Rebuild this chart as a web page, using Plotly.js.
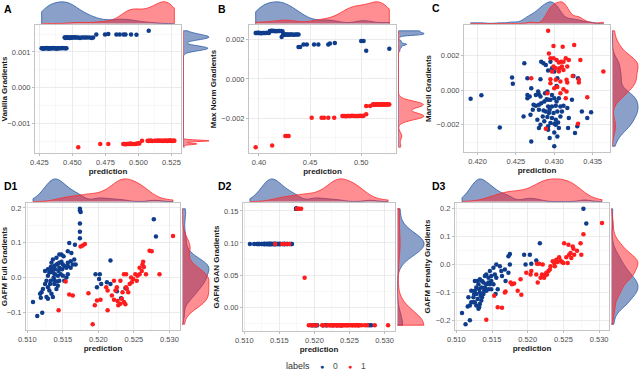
<!DOCTYPE html>
<html>
<head>
<meta charset="utf-8">
<script src="https://cdn.plot.ly/plotly-3.0.1.min.js"></script>
<style>
  html, body { margin: 0; padding: 0; background: #fff; }
  #chart { width: 640px; height: 389px; }
</style>
</head>
<body>
<div id="chart"></div>
<script>
// ---- Panel A: Vanilla Gradients vs prediction ----
const aBlueX = [0.4267, 0.4272, 0.4279, 0.4285, 0.4291, 0.4298, 0.4303, 0.4310, 0.4316, 0.4322, 0.4329, 0.4334, 0.4341, 0.4347,
  0.4353, 0.4360, 0.4366, 0.4373, 0.4380, 0.4388, 0.4396, 0.4405, 0.4414, 0.4424, 0.4436, 0.4447, 0.4455,
  0.4441, 0.4446, 0.4450, 0.4455, 0.4461, 0.4466, 0.4472, 0.4478, 0.4485, 0.4491, 0.4498, 0.4506, 0.4515, 0.4524,
  0.4533, 0.4545, 0.4557, 0.4569, 0.4584, 0.4598, 0.4612, 0.4630, 0.4646, 0.4657,
  0.4681, 0.4747, 0.4772, 0.4833, 0.4858, 0.4887, 0.4902, 0.4944, 0.4985, 0.5078];
const aBlueY = [0.00110, 0.00110, 0.00109, 0.00110, 0.00110, 0.00110, 0.00111, 0.00110, 0.00110, 0.00109, 0.00110, 0.00110, 0.00110, 0.00110,
  0.00111, 0.00110, 0.00110, 0.00110, 0.00109, 0.00110, 0.00110, 0.00110, 0.00110, 0.00111, 0.00110, 0.00110, 0.00110,
  0.00140, 0.00140, 0.00139, 0.00140, 0.00140, 0.00140, 0.00140, 0.00139, 0.00140, 0.00140, 0.00140, 0.00140, 0.00141, 0.00140,
  0.00140, 0.00140, 0.00139, 0.00140, 0.00140, 0.00140, 0.00140, 0.00140, 0.00139, 0.00140,
  0.00149, 0.00149, 0.00150, 0.00149, 0.00149, 0.00149, 0.00149, 0.00149, 0.00148, 0.00159];
const aRedX = [0.4544, 0.4711, 0.4772,
  0.4885, 0.4893, 0.4902, 0.4911, 0.4920, 0.4930, 0.4938, 0.4947, 0.4956, 0.4966, 0.4978, 0.4990, 0.5001, 0.5007,
  0.5027, 0.5069, 0.5076, 0.5082, 0.5090, 0.5097, 0.5104, 0.5122, 0.5131, 0.5142, 0.5152, 0.5163, 0.5172, 0.5180,
  0.5187, 0.5193, 0.5199, 0.5205, 0.5211, 0.5217, 0.5222, 0.5228, 0.5233, 0.5239, 0.5244, 0.5250, 0.5256, 0.5262, 0.5268, 0.5272];
const aRedY = [-0.00167, -0.00158, -0.00158,
  -0.00158, -0.00158, -0.00159, -0.00158, -0.00158, -0.00158, -0.00157, -0.00158, -0.00158, -0.00158, -0.00158, -0.00157, -0.00156, -0.00157,
  -0.00149, -0.00149, -0.00150, -0.00149, -0.00149, -0.00149, -0.00150, -0.00149, -0.00149, -0.00149, -0.00148, -0.00149, -0.00149, -0.00149,
  -0.00150, -0.00149, -0.00149, -0.00149, -0.00149, -0.00150, -0.00149, -0.00149, -0.00149, -0.00148, -0.00149, -0.00149, -0.00150, -0.00149, -0.00149, -0.00149];

// ---- Panel B: Max Norm Gradients ----
const bBlueX = [0.3968, 0.3975, 0.3983, 0.3990, 0.3998, 0.4006, 0.4014, 0.4023, 0.4033, 0.4043, 0.4055, 0.4068, 0.4082, 0.4097,
  0.4107, 0.4113, 0.4120, 0.4127, 0.4134, 0.4142, 0.4150, 0.4159, 0.4168, 0.4178, 0.4190, 0.4203, 0.4217, 0.4230,
  0.4236, 0.4243, 0.4250, 0.4258, 0.4266, 0.4276, 0.4287, 0.4299, 0.4312, 0.4326, 0.4342, 0.4358, 0.4373, 0.4387,
  0.4222, 0.4387, 0.4403, 0.4436, 0.4468, 0.4539, 0.4581, 0.4678, 0.4694, 0.4742, 0.5000, 0.5023, 0.5049, 0.5275];
const bBlueY = [0.00234, 0.00234, 0.00234, 0.00235, 0.00234, 0.00234, 0.00234, 0.00233, 0.00234, 0.00234, 0.00234, 0.00234, 0.00235, 0.00234,
  0.00244, 0.00244, 0.00244, 0.00245, 0.00244, 0.00244, 0.00244, 0.00244, 0.00243, 0.00244, 0.00244, 0.00244, 0.00244, 0.00243,
  0.00226, 0.00226, 0.00225, 0.00226, 0.00226, 0.00226, 0.00225, 0.00226, 0.00226, 0.00226, 0.00225, 0.00226, 0.00226, 0.00226,
  0.00214, 0.00163, 0.00163, 0.00175, 0.00175, 0.00175, 0.00175, 0.00176, 0.00180, 0.00183, 0.00193, 0.00193, 0.00143, 0.00154];
const bRedX = [0.3968, 0.4129, 0.4258, 0.4274, 0.4290, 0.4516, 0.4613, 0.4636, 0.4678, 0.4736,
  0.4816, 0.4826, 0.4838, 0.4850, 0.4862, 0.4874, 0.4888, 0.4900, 0.4912, 0.4925, 0.4938, 0.4950, 0.4963, 0.4976, 0.4990, 0.5004, 0.5016, 0.5023,
  0.5049, 0.5049, 0.5087,
  0.5113, 0.5120, 0.5128, 0.5135, 0.5143, 0.5150, 0.5158, 0.5166, 0.5174, 0.5182, 0.5190, 0.5198, 0.5206, 0.5214, 0.5222, 0.5231, 0.5240, 0.5249, 0.5258, 0.5267, 0.5275];
const bRedY = [-0.00347, -0.00338, -0.00290, -0.00290, -0.00290, -0.00197, -0.00197, -0.00197, -0.00197, -0.00197,
  -0.00188, -0.00188, -0.00188, -0.00189, -0.00188, -0.00188, -0.00188, -0.00188, -0.00187, -0.00188, -0.00188, -0.00188, -0.00188, -0.00188, -0.00187, -0.00188, -0.00188, -0.00187,
  -0.00180, -0.00138, -0.00138,
  -0.00130, -0.00130, -0.00130, -0.00131, -0.00130, -0.00130, -0.00130, -0.00130, -0.00129, -0.00130, -0.00130, -0.00130, -0.00130, -0.00130, -0.00129, -0.00130, -0.00130, -0.00130, -0.00130, -0.00129, -0.00130];

// ---- Panel C: Marvell Gradients ----
const cBlueX = [0.4191, 0.4205, 0.4229, 0.4245, 0.4246, 0.4261, 0.4265, 0.4270, 0.4282, 0.4283, 0.4286, 0.4289, 0.4292, 0.4295, 0.4297,
  0.4270, 0.4276, 0.4265, 0.4268, 0.4279, 0.4280, 0.4282, 0.4288, 0.4291, 0.4273, 0.4276, 0.4280, 0.4283, 0.4287, 0.4290, 0.4295,
  0.4300, 0.4303, 0.4306, 0.4292, 0.4297, 0.4302, 0.4308, 0.4312, 0.4280, 0.4286, 0.4289, 0.4294, 0.4299, 0.4304, 0.4310, 0.4317,
  0.4285, 0.4291, 0.4297, 0.4302, 0.4305, 0.4302, 0.4295, 0.4292, 0.4300, 0.4308, 0.4319, 0.4325, 0.4331, 0.4323, 0.4336, 0.4343,
  0.4348, 0.4330, 0.4327, 0.4280, 0.4292, 0.4300, 0.4294, 0.4300, 0.4304, 0.4318, 0.4260, 0.4269, 0.4278, 0.4282, 0.4287, 0.4272,
  0.4265, 0.4293, 0.4306, 0.4292, 0.4297, 0.4303, 0.4304, 0.4300];
const cBlueY = [-0.00050, -0.00029, -0.00215, 0.00073, 0.00037, 0.00156, 0.00069, -0.00296, 0.00064, 0.00165, 0.00156, 0.00146, 0.00114, 0.00165, 0.00127,
  0.00012, -0.00027, -0.00027, -0.00036, -0.00008, -0.00023, -0.00036, -0.00017, -0.00007, -0.00084, -0.00090, -0.00084, -0.00075, -0.00065, -0.00052, -0.00055,
  -0.00046, -0.00065, -0.00046, -0.00094, -0.00094, -0.00090, -0.00094, -0.00090, -0.00113, -0.00117, -0.00123, -0.00113, -0.00132, -0.00123, -0.00123, -0.00103,
  -0.00152, -0.00155, -0.00161, -0.00171, -0.00186, -0.00200, -0.00190, -0.00209, -0.00194, -0.00152, -0.00161, 0.00083, 0.00069, -0.00055, -0.00123, -0.00161,
  -0.00128, -0.00209, -0.00248, -0.00219, -0.00228, -0.00244, -0.00276, -0.00324, -0.00267, -0.00219, -0.00152, -0.00142, -0.00171, -0.00200, -0.00180, -0.00113,
  -0.00046, -0.00132, -0.00219, -0.00055, -0.00027, 0.00025, 0.00069, 0.00108];
const cRedX = [0.4292, 0.4299, 0.4311, 0.4326, 0.4293, 0.4295, 0.4299, 0.4303, 0.4306, 0.4309, 0.4312, 0.4315, 0.4319, 0.4334,
  0.4299, 0.4302, 0.4307, 0.4310, 0.4317, 0.4297, 0.4306, 0.4312, 0.4324, 0.4270, 0.4332, 0.4332, 0.4295, 0.4302, 0.4308,
  0.4316, 0.4317, 0.4300, 0.4304, 0.4312, 0.4316, 0.4308, 0.4364, 0.4343, 0.4331, 0.4289, 0.4295, 0.4291, 0.4315];
const cRedY = [0.00344, 0.00256, 0.00252, 0.00261, 0.00213, 0.00185, 0.00185, 0.00175, 0.00160, 0.00165, 0.00165, 0.00185, 0.00175, 0.00175,
  0.00137, 0.00127, 0.00127, 0.00137, 0.00137, 0.00108, 0.00108, 0.00117, 0.00083, 0.00069, 0.00060, 0.00044, 0.00064, 0.00060, 0.00050,
  0.00060, 0.00044, 0.00012, 0.00018, 0.00006, -0.00007, -0.00017, 0.00108, -0.00040, -0.00194, -0.00223, 0.00041, -0.00017, -0.00046];

// ---- Panels D1 / D2: same GAFM predictions, different gradients ----
const gafmBlueX = [0.5174, 0.5174, 0.5175, 0.5174, 0.5174, 0.5174, 0.5167, 0.5159, 0.5148, 0.5157, 0.5162, 0.5166, 0.5168,
  0.5278, 0.5281, 0.5217, 0.5196, 0.5202, 0.5201, 0.5204, 0.5198, 0.5212, 0.5217,
  0.5108, 0.5114, 0.5121, 0.5118, 0.5120, 0.5125, 0.5127, 0.5129, 0.5131, 0.5134, 0.5136, 0.5138, 0.5141, 0.5143, 0.5145,
  0.5148, 0.5150, 0.5152, 0.5155, 0.5157, 0.5125, 0.5129, 0.5133, 0.5136, 0.5139, 0.5143, 0.5147, 0.5150, 0.5155, 0.5129,
  0.5131, 0.5134, 0.5136, 0.5138, 0.5141, 0.5143, 0.5145, 0.5127, 0.5129, 0.5122, 0.5119, 0.5133, 0.5138, 0.5152, 0.5157,
  0.5161, 0.5164, 0.5161, 0.5151, 0.5145, 0.5141, 0.5136, 0.5157, 0.5134, 0.5139, 0.5144, 0.5149, 0.5137, 0.5142, 0.5132,
  0.5145, 0.5226, 0.5232, 0.5238];
const d1BlueY = [0.1976, 0.1929, 0.1881, 0.1552, 0.1317, 0.1129, 0.0941, 0.0988, 0.0659, 0.0753, 0.0706, 0.0517, 0.0376,
  0.1674, 0.1176, 0.0489, 0.0094, 0.0094, -0.0047, -0.0188, -0.0282, -0.0141, -0.0188,
  -0.0706, -0.1110, -0.1016, -0.0470, -0.0423, -0.0188, -0.0094, 0.0047, 0.0141, 0.0188, 0.0282, 0.0329, 0.0376, 0.0395, 0.0423,
  0.0452, 0.0376, 0.0329, 0.0282, 0.0329, 0.0188, 0.0235, 0.0301, 0.0141, 0.0094, 0.0047, 0.0094, 0.0047, 0.0000, -0.0282,
  -0.0376, -0.0470, -0.0564, -0.0188, -0.0329, -0.0235, -0.0094, -0.0564, -0.0611, -0.0329, -0.0583, -0.0094, -0.0075, -0.0094, 0.0094,
  0.0282, 0.0376, 0.0470, 0.0611, 0.0659, 0.0564, 0.0517, 0.0423, 0.0423, 0.0235, 0.0188, 0.0235, 0.0000, -0.0113, -0.0188,
  0.0282, -0.0400, -0.0600, -0.0300];
const d2BlueY = [0.1533, 0.1533, 0.1533, 0.1533, 0.1533, 0.1533, 0.0985, 0.0985, 0.0985, 0.0985, 0.0985, 0.0985, 0.0985,
  -0.0282, -0.0282, -0.0282, -0.0282, -0.0282, -0.0282, -0.0282, -0.0282, -0.0282, -0.0282,
  0.0985, 0.0985, 0.0985, 0.0985, 0.0985, 0.0985, 0.0985, 0.0985, 0.0985, 0.0985, 0.0985, 0.0985, 0.0985, 0.0985, 0.0985,
  0.0985, 0.0985, 0.0985, 0.0985, 0.0985, 0.0985, 0.0985, 0.0985, 0.0985, 0.0985, 0.0985, 0.0985, 0.0985, 0.0985, 0.0985,
  0.0985, 0.0985, 0.0985, 0.0985, 0.0985, 0.0985, 0.0985, 0.0985, 0.0985, 0.0985, 0.0985, 0.0985, 0.0985, 0.0985, 0.0985,
  0.0985, 0.0985, 0.0985, 0.0985, 0.0985, 0.0985, 0.0985, 0.0985, 0.0985, 0.0985, 0.0985, 0.0985, 0.0985, 0.0985, 0.0985,
  0.0985, -0.0282, -0.0282, -0.0282];
const gafmRedX = [0.5175, 0.5178, 0.5181, 0.5154, 0.5159, 0.5164, 0.5144, 0.5192, 0.5186, 0.5195, 0.5198, 0.5203, 0.5211,
  0.5213, 0.5213, 0.5219, 0.5222, 0.5224, 0.5226, 0.5227, 0.5228, 0.5231, 0.5233, 0.5234, 0.5236, 0.5238, 0.5239, 0.5240,
  0.5242, 0.5244, 0.5246, 0.5247, 0.5249, 0.5252, 0.5254, 0.5255, 0.5258, 0.5258, 0.5261, 0.5262, 0.5263, 0.5264, 0.5267,
  0.5272, 0.5275, 0.5286, 0.5305, 0.5222, 0.5231, 0.5236, 0.5239];
const d1RedY = [0.0894, 0.0922, 0.0960, -0.0113, -0.0489, -0.0517, -0.0941, -0.1345, -0.0452, -0.0800, -0.0659, -0.0640, -0.0282,
  -0.0376, -0.0941, -0.0517, -0.0640, -0.0376, -0.0282, -0.0677, -0.0800, -0.0753, -0.0611, -0.0423, -0.0706, -0.0771, -0.0282, -0.0329,
  -0.0423, -0.0188, 0.0000, -0.0141, -0.0047, 0.0094, -0.0094, 0.0047, 0.0282, 0.0094, 0.0188, 0.0376, 0.0452, 0.0301, 0.0094,
  0.0771, 0.0753, 0.0094, 0.1195, -0.0094, -0.0094, 0.0094, 0.0094];
const d2RedY = [0.1533, 0.1533, 0.1533, 0.0985, 0.0985, 0.0985, 0.0985, -0.0282, 0.0457, -0.0282, -0.0282, -0.0282, -0.0282,
  -0.0282, -0.0282, -0.0282, -0.0282, -0.0282, -0.0282, -0.0282, -0.0282, -0.0282, -0.0282, -0.0282, -0.0282, -0.0282, -0.0282, -0.0282,
  -0.0282, -0.0282, -0.0282, -0.0282, -0.0282, -0.0282, -0.0282, -0.0282, -0.0282, -0.0282, -0.0282, -0.0282, -0.0282, -0.0282, -0.0282,
  -0.0282, -0.0282, -0.0282, -0.0282, -0.0282, -0.0282, -0.0282, -0.0282];

// ---- Panel D3: GAFM Penalty Gradients ----
const d3BlueX = [0.5108, 0.5113, 0.5119, 0.5116, 0.5119, 0.5121, 0.5124, 0.5125, 0.5126, 0.5128, 0.5131, 0.5132, 0.5133, 0.5134,
  0.5130, 0.5126, 0.5128, 0.5131, 0.5132, 0.5133, 0.5135, 0.5136, 0.5138, 0.5139, 0.5140, 0.5142, 0.5145, 0.5147, 0.5149, 0.5152,
  0.5130, 0.5133, 0.5136, 0.5140, 0.5142, 0.5145, 0.5149, 0.5154, 0.5156, 0.5147, 0.5152, 0.5156, 0.5161, 0.5163, 0.5168, 0.5173,
  0.5175, 0.5164, 0.5169, 0.5158, 0.5155, 0.5175, 0.5173, 0.5195, 0.5203, 0.5197, 0.5205, 0.5212, 0.5217, 0.5278, 0.5282,
  0.5124, 0.5121, 0.5135, 0.5126, 0.5142, 0.5138, 0.5117, 0.5145, 0.5128, 0.5149];
const d3BlueY = [-0.1741, -0.2141, -0.2000, -0.1506, -0.1471, -0.1353, -0.1176, -0.1059, -0.0941, -0.0824, -0.0706, -0.0882, -0.1000, -0.1118,
  -0.1235, -0.1353, -0.1471, -0.1588, -0.1529, -0.1412, -0.1294, -0.1176, -0.1059, -0.0941, -0.0824, -0.0706, -0.0647, -0.0706, -0.0588, -0.0706,
  -0.0588, -0.0529, -0.0588, -0.0412, -0.0353, -0.0471, -0.0412, -0.0353, -0.0471, -0.0235, -0.0118, 0.0000, -0.0059, -0.0235, -0.0176, -0.0294,
  0.0000, -0.0412, -0.0588, -0.0882, -0.1059, 0.0376, 0.0294, 0.0353, 0.0353, 0.0000, 0.0024, 0.0141, 0.0765, 0.2000, 0.1471,
  -0.1353, -0.0941, -0.0824, -0.0588, -0.0941, -0.0647, -0.1176, -0.0882, -0.1059, -0.0882];
const d3RedX = [0.5142, 0.5153, 0.5158, 0.5164, 0.5168, 0.5169, 0.5176, 0.5178, 0.5181, 0.5186, 0.5191, 0.5190, 0.5198, 0.5204,
  0.5205, 0.5213, 0.5216, 0.5221, 0.5212, 0.5214, 0.5218, 0.5220, 0.5223, 0.5225, 0.5226, 0.5227, 0.5229, 0.5231, 0.5232, 0.5235,
  0.5237, 0.5238, 0.5240, 0.5242, 0.5244, 0.5246, 0.5248, 0.5250, 0.5254, 0.5256, 0.5258, 0.5260, 0.5261, 0.5263, 0.5264, 0.5265,
  0.5269, 0.5274, 0.5278, 0.5304, 0.5275, 0.5251, 0.5257];
const d3RedY = [-0.1976, -0.1118, -0.1529, -0.1553, -0.1000, -0.0965, -0.0647, -0.0706, -0.0682, -0.0941, -0.1082, -0.0529, -0.0294, -0.0353,
  -0.0235, 0.0024, 0.0024, 0.0000, -0.0353, -0.0647, -0.0471, -0.0353, -0.0471, -0.0376, -0.0294, -0.0353, -0.0235, -0.0176, -0.0059, 0.0118,
  0.0059, -0.0059, 0.0176, 0.0094, 0.0259, 0.0141, 0.0094, 0.0059, 0.0259, 0.0059, 0.0353, 0.0412, 0.0235, 0.0647, 0.0565, 0.0353,
  0.0494, 0.0765, 0.1082, 0.1494, 0.0353, 0.0765, 0.0706];

const labelNames = ['0', '1'];

const W = 640, H = 389;
const BLUE = '#0f3d8c', RED = '#ff1c1c';
const BLUE_FILL = 'rgba(22,66,145,0.5)', RED_FILL = 'rgba(255,30,40,0.5)';
const BLUE_LINE = '#2f5fa8', RED_LINE = '#ff2b2b';
const FONT = 'Liberation Sans, Arial, sans-serif';

// box = [left, right, top, bottom] of the scatter panel in px; top/right = marginal strips
const panels = [
  { tag: 'A', yTitle: 'Vanilla Gradients', bx: aBlueX, by: aBlueY, rx: aRedX, ry: aRedY,
    xt: [0.025, '.3f'], yt: [0.001, '.3f'], box: [35, 181, 25, 153], top: [1, 24], right: [183, 210], lab: [2, 9] },
  { tag: 'B', yTitle: 'Max Norm Gradients', bx: bBlueX, by: bBlueY, rx: bRedX, ry: bRedY,
    xt: [0.05, '.2f'], yt: [0.002, '.3f'], box: [249, 396, 25, 153], top: [1, 24], right: [398, 425], lab: [216, 9] },
  { tag: 'C', yTitle: 'Marvell Gradients', bx: cBlueX, by: cBlueY, rx: cRedX, ry: cRedY,
    xt: [0.005, '.3f'], yt: [0.002, '.3f'], box: [464, 610, 25, 152], top: [1, 24], right: [612, 639], lab: [430, 8] },
  { tag: 'D1', yTitle: 'GAFM Full Gradients', bx: gafmBlueX, by: d1BlueY, rx: gafmRedX, ry: d1RedY,
    xt: [0.005, '.3f'], yt: [0.1, '.1f'], box: [26, 180, 203, 330], top: [178, 202], right: [182, 210], lab: [2, 186] },
  { tag: 'D2', yTitle: 'GAFM GAN Gradients', bx: gafmBlueX, by: d2BlueY, rx: gafmRedX, ry: d2RedY,
    xt: [0.005, '.3f'], yt: [0.05, '.2f'], box: [243, 395, 203, 331], top: [178, 202], right: [397, 425], lab: [216, 186] },
  { tag: 'D3', yTitle: 'GAFM Penalty Gradients', bx: d3BlueX, by: d3BlueY, rx: d3RedX, ry: d3RedY,
    xt: [0.005, '.3f'], yt: [0.1, '.1f'], box: [455, 609, 203, 330], top: [178, 202], right: [611, 639], lab: [430, 186] }
];

// R's bw.nrd0, so the marginal densities match ggplot's default
function nrd0(v) {
  const s = v.slice().sort((a, b) => a - b), n = s.length;
  const mean = s.reduce((a, b) => a + b, 0) / n;
  const sd = Math.sqrt(s.reduce((a, b) => a + (b - mean) * (b - mean), 0) / (n - 1));
  const q = p => { const h = (n - 1) * p, i = Math.floor(h); return s[i] + (h - i) * ((i + 1 < n ? s[i + 1] : s[i]) - s[i]); };
  let lo = Math.min(sd, (q(0.75) - q(0.25)) / 1.34);
  if (!lo) lo = sd || Math.abs(s[0]) || 1;
  return 0.9 * lo * Math.pow(n, -0.2);
}
const extent = (a, b) => [Math.min(...a, ...b), Math.max(...a, ...b)];
const expand = ([lo, hi]) => [lo - (hi - lo) * 0.05, hi + (hi - lo) * 0.05];
const suffix = n => (n === 1 ? '' : String(n));

function mainAxis(dom, anchor, range, tick, title, isX) {
  return {
    domain: dom, anchor: anchor, range: range, dtick: tick[0], tick0: 0, tickformat: tick[1],
    showgrid: true, gridcolor: '#e3e3e3', gridwidth: 0.7,
    minor: { dtick: tick[0] / 2, showgrid: true, gridcolor: '#f1f1f1', gridwidth: 0.5 },
    zeroline: false, showline: true, mirror: true, linecolor: '#c4c4c4', linewidth: 1,
    ticks: 'outside', ticklen: 2, tickcolor: '#bdbdbd',
    tickfont: { family: FONT, size: 7.5, color: '#4d4d4d' },
    title: { text: title, font: { family: FONT, size: 8, color: '#1a1a1a', weight: 'bold' }, standoff: isX ? 2 : 3 },
    automargin: false, fixedrange: true
  };
}
const hidden = (dom, anchor, range) => ({ domain: dom, anchor: anchor, range: range, visible: false, fixedrange: true });

function density(vals, horiz, xa, ya, sp, group, line, fill) {
  const t = {
    type: 'violin', orientation: horiz ? 'h' : 'v', side: 'positive', width: 2,
    spanmode: 'manual', span: sp, bandwidth: nrd0(vals), scalemode: 'width', scalegroup: group,
    points: false, box: { visible: false }, meanline: { visible: false },
    line: { color: line, width: 0.8 }, fillcolor: fill, xaxis: xa, yaxis: ya,
    hoverinfo: 'skip', showlegend: false
  };
  if (horiz) { t.x = vals; t.y0 = 0; } else { t.y = vals; t.x0 = 0; }
  return t;
}

const traces = [];
const layout = {
  width: W, height: H, margin: { l: 0, r: 0, t: 0, b: 0 },
  paper_bgcolor: '#fff', plot_bgcolor: '#fff', font: { family: FONT },
  violinmode: 'overlay', violingap: 0, violingroupgap: 0,
  showlegend: false,
  annotations: []
};

panels.forEach((p, i) => {
  const k = i + 1, kt = k + 6, kr = k + 12;
  const xs = extent(p.bx, p.rx), ys = extent(p.by, p.ry);
  const xr = expand(xs), yr = expand(ys);
  const xd = [p.box[0] / W, p.box[1] / W], yd = [1 - p.box[3] / H, 1 - p.box[2] / H];
  const topD = [1 - p.top[1] / H, 1 - p.top[0] / H], rightD = [p.right[0] / W, p.right[1] / W];

  layout['xaxis' + suffix(k)] = mainAxis(xd, 'y' + suffix(k), xr, p.xt, 'prediction', true);
  layout['yaxis' + suffix(k)] = mainAxis(yd, 'x' + suffix(k), yr, p.yt, p.yTitle, false);
  layout['xaxis' + kt] = hidden(xd, 'y' + kt, xr);
  layout['yaxis' + kt] = hidden(topD, 'x' + kt, [-0.02, 1.04]);
  layout['xaxis' + kr] = hidden(rightD, 'y' + kr, [-0.02, 1.04]);
  layout['yaxis' + kr] = hidden(yd, 'x' + kr, yr);

  // marginal densities (blue under red)
  traces.push(density(p.bx, true, 'x' + kt, 'y' + kt, xs, 'top' + k, BLUE_LINE, BLUE_FILL));
  traces.push(density(p.rx, true, 'x' + kt, 'y' + kt, xs, 'top' + k, RED_LINE, RED_FILL));
  traces.push(density(p.by, false, 'x' + kr, 'y' + kr, ys, 'right' + k, BLUE_LINE, BLUE_FILL));
  traces.push(density(p.ry, false, 'x' + kr, 'y' + kr, ys, 'right' + k, RED_LINE, RED_FILL));

  // scatter points
  traces.push({ type: 'scatter', mode: 'markers', x: p.bx, y: p.by, xaxis: 'x' + suffix(k), yaxis: 'y' + suffix(k),
    marker: { color: BLUE, size: 4.5 }, name: labelNames[0], hoverinfo: 'skip' });
  traces.push({ type: 'scatter', mode: 'markers', x: p.rx, y: p.ry, xaxis: 'x' + suffix(k), yaxis: 'y' + suffix(k),
    marker: { color: RED, size: 4.5 }, name: labelNames[1], hoverinfo: 'skip' });

  layout.annotations.push({ xref: 'paper', yref: 'paper', x: p.lab[0] / W, y: 1 - p.lab[1] / H,
    xanchor: 'left', yanchor: 'middle', showarrow: false, text: p.tag,
    font: { family: FONT, size: 10.5, color: '#000', weight: 'bold' } });
});

// bottom legend: "labels  ● 0  ● 1"
const legY = 1 - 366 / H;
const legendItems = [
  { x: 298, text: 'labels', color: '#333', size: 9 },
  { x: 321.5, text: '●', color: BLUE, size: 7 },
  { x: 335, text: labelNames[0], color: '#4d4d4d', size: 8.5 },
  { x: 350, text: '●', color: RED, size: 7 },
  { x: 363.5, text: labelNames[1], color: '#4d4d4d', size: 8.5 }
];
legendItems.forEach(it => layout.annotations.push({
  xref: 'paper', yref: 'paper', x: it.x / W, y: legY, xanchor: 'center', yanchor: 'middle',
  showarrow: false, text: it.text, font: { family: FONT, size: it.size, color: it.color }
}));

Plotly.newPlot('chart', traces, layout, { displayModeBar: false, staticPlot: true });
</script>
</body>
</html>
